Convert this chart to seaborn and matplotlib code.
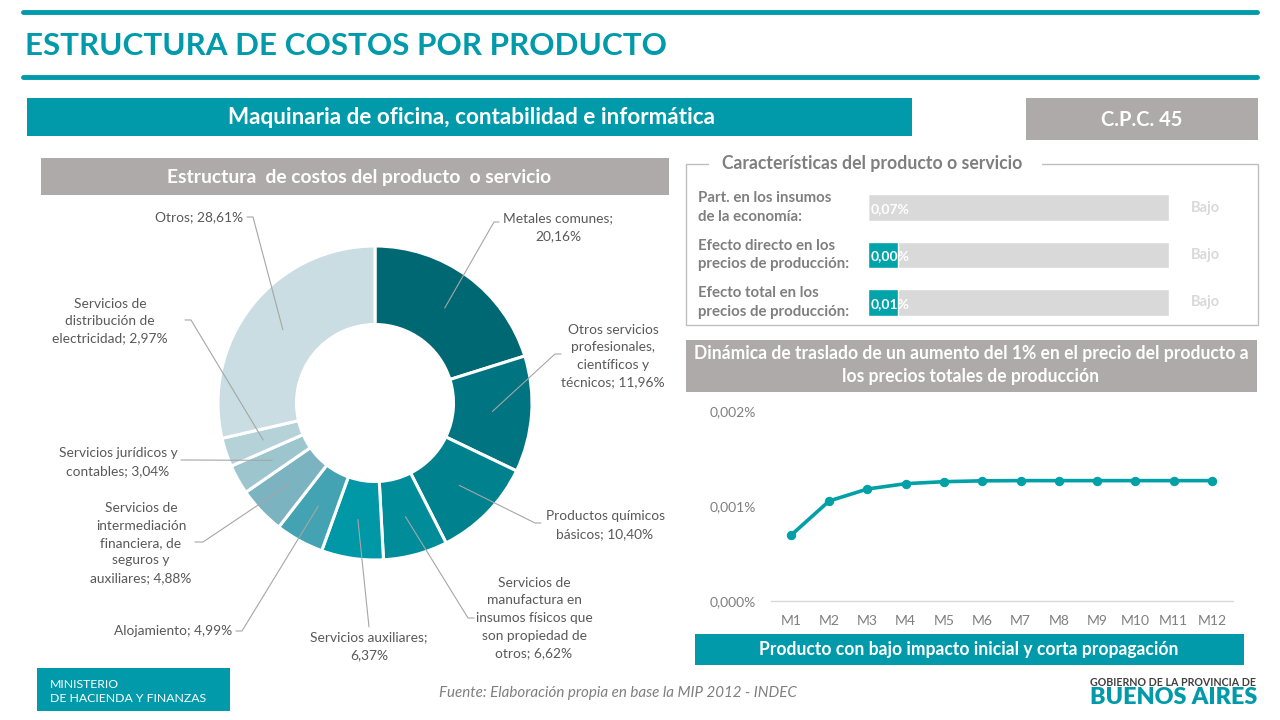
import numpy as np
import pandas as pd
import matplotlib
matplotlib.use("Agg")
import matplotlib.pyplot as plt
import seaborn as sns
from matplotlib.patches import Rectangle

# ---------------- data ----------------
cost_items = [
    "Metales comunes",
    "Otros servicios profesionales, científicos y técnicos",
    "Productos químicos básicos",
    "Servicios de manufactura en insumos físicos que son propiedad de otros",
    "Servicios auxiliares",
    "Alojamiento",
    "Servicios de intermediación financiera, de seguros y auxiliares",
    "Servicios jurídicos y contables",
    "Servicios de distribución de electricidad",
    "Otros",
]
cost_shares = [20.16, 11.96, 10.40, 6.62, 6.37, 4.99, 4.88, 3.04, 2.97, 28.61]
cost_label_names = [
    "Metales comunes;\n",
    "Otros servicios\nprofesionales,\ncientíficos y\ntécnicos; ",
    "Productos químicos\nbásicos; ",
    "Servicios de\nmanufactura en\ninsumos físicos que\nson propiedad de\notros; ",
    "Servicios auxiliares;\n",
    "Alojamiento; ",
    "Servicios de\nintermediación\nfinanciera, de\nseguros y\nauxiliares; ",
    "Servicios jurídicos y\ncontables; ",
    "Servicios de\ndistribución de\nelectricidad; ",
    "Otros; ",
]
cost_colors = ["#006872", "#007581", "#00828E", "#008C99", "#0097A7",
               "#44A3B2", "#7BB3C0", "#9CC5CE", "#B5D2D9", "#C9DDE2"]

char_labels = ["Part. en los insumos\nde la economía:",
               "Efecto directo en los\nprecios de producción:",
               "Efecto total en los\nprecios de producción:"]
char_values = [0.07, 0.00, 0.01]          # %
char_bar_share = [0.0, 0.10, 0.10]        # filled share of the data bar
char_track = [1.0, 1.0, 1.0]
char_level = ["Bajo", "Bajo", "Bajo"]

months = ["M1", "M2", "M3", "M4", "M5", "M6", "M7", "M8", "M9", "M10", "M11", "M12"]
pass_through = [0.000691, 0.001053, 0.001179, 0.001235, 0.001256, 0.001265,
                0.001267, 0.001267, 0.001267, 0.001267, 0.001267, 0.001267]   # %
y_ticks = [0.000, 0.001, 0.002]

# ---------------- style ----------------
sns.set_theme(style="white")
plt.rcParams["font.family"] = ["Lato", "DejaVu Sans"]

TEAL = "#009AAA"
LINE_TEAL = "#00A0A7"
GRAY_BOX = "#AEAAAA"
TXT_GRAY = "#7F7F7F"
LBL_GRAY = "#595959"

W, H = 1280, 720
fig = plt.figure(figsize=(12.8, 7.2), dpi=100)
renderer = fig.canvas.get_renderer()


def fig_rect(x0, y0, x1, y1):
    return [x0 / W, 1 - y1 / H, (x1 - x0) / W, (y1 - y0) / H]


def fit(t, width):
    bb = t.get_window_extent(renderer=renderer)
    t.set_fontsize(t.get_fontsize() * width / bb.width)
    return t.get_fontsize()


def pct(v, nd=2):
    return f"{v:.{nd}f}%".replace(".", ",")


# background axes in pixel coordinates
bg = fig.add_axes([0, 0, 1, 1], zorder=0)
bg.set_xlim(0, W)
bg.set_ylim(H, 0)
bg.axis("off")

# header lines and title
for yy in (12, 77):
    bg.plot([23, 1257], [yy, yy], color=TEAL, lw=3.5, solid_capstyle="round")
t = bg.text(25, 46, "ESTRUCTURA DE COSTOS POR PRODUCTO", color=TEAL, fontsize=23,
            weight="bold", ha="left", va="center")
fit(t, 643)


def box(x0, y0, x1, y1, color):
    bg.add_patch(Rectangle((x0, y0), x1 - x0, y1 - y0, facecolor=color, edgecolor="none", zorder=1))


box(27, 98, 912, 136, TEAL)
t = bg.text(471, 117, "Maquinaria de oficina, contabilidad e informática", color="white",
            weight="bold", fontsize=14, ha="center", va="center", zorder=2)
fit(t, 491)
box(1026, 98, 1258, 140, GRAY_BOX)
t = bg.text(1142, 120, "C.P.C. 45", color="white", weight="bold", fontsize=14,
            ha="center", va="center", zorder=2)
fit(t, 82)
box(41, 158, 669, 195, GRAY_BOX)
t = bg.text(359, 177, "Estructura  de costos del producto  o servicio", color="white",
            weight="bold", fontsize=12, ha="center", va="center", zorder=2)
fit(t, 383)

# characteristics frame
bg.add_patch(Rectangle((686, 164), 1258 - 686, 325 - 164, facecolor="none",
                       edgecolor="#BFBFBF", lw=1.0, zorder=1))
bg.add_patch(Rectangle((709, 156), 1042 - 709, 16, facecolor="white", edgecolor="none", zorder=2))
t = bg.text(722, 163, "Características del producto o servicio", color=TXT_GRAY,
            weight="bold", fontsize=12, ha="left", va="center", zorder=3)
fit(t, 297)

box(686, 340, 1257, 392, GRAY_BOX)
t = bg.text(971, 365, "Dinámica de traslado de un aumento del 1% en el precio del producto a\n"
            "los precios totales de producción", color="white", weight="bold", fontsize=12,
            ha="center", va="center", linespacing=1.45, zorder=2)
fit(t, 550)

box(695, 634, 1244, 665, TEAL)
t = bg.text(969, 650, "Producto con bajo impacto inicial y corta propagación", color="white",
            weight="bold", fontsize=12, ha="center", va="center", zorder=2)
fit(t, 415)

# footer
box(37, 668, 230, 711, TEAL)
t1 = bg.text(50, 684, "MINISTERIO", color="white", fontsize=8, ha="left", va="center", zorder=2)
t = bg.text(50, 698, "DE HACIENDA Y FINANZAS", color="white", fontsize=8, ha="left",
            va="center", zorder=2)
s = fit(t, 156)
t1.set_fontsize(s)
t = bg.text(618, 693, "Fuente: Elaboración propia en base la MIP 2012 - INDEC", color=TXT_GRAY,
            style="italic", fontsize=10, ha="center", va="center")
fit(t, 360)
t = bg.text(1090, 682, "GOBIERNO DE LA PROVINCIA DE", color="#404040", weight="bold",
            fontsize=7, ha="left", va="center")
fit(t, 167)
t = bg.text(1090, 698, "BUENOS AIRES", color=TEAL, weight="heavy", fontsize=18,
            ha="left", va="center")
fit(t, 168)

# ---------------- donut ----------------
dax = fig.add_axes(fig_rect(218, 246, 532, 560), zorder=2)
wedges, _ = dax.pie(cost_shares, colors=cost_colors, startangle=90, counterclock=False,
                    radius=1.0, wedgeprops=dict(width=0.5, edgecolor="white", linewidth=2.2))
dax.set_xlim(-1, 1)
dax.set_ylim(-1, 1)
dax.set_aspect("equal")
dax.axis("off")
dax.apply_aspect()

ov = fig.add_axes([0, 0, 1, 1], zorder=10)
ov.set_xlim(0, W)
ov.set_ylim(H, 0)
ov.axis("off")
ov.patch.set_alpha(0)

# label layout: (text x, text y, ha, anchor, elbow)
label_layout = [
    (558, 227, "center", (499, 222), (494, 222)),
    (613, 356, "center", (561, 354), (555, 354)),
    (605, 525, "center", (541, 523), (535, 523)),
    (534, 618, "center", (474, 618), (468, 618)),
    (369, 646, "center", (369, 627), (369, 627)),
    (232, 631, "right", (236, 631), (242, 631)),
    (141, 543, "center", (195, 542), (203, 542)),
    (118, 462, "center", (181, 460), (187, 460)),
    (110, 321, "center", (185, 320), (191, 320)),
    (243, 217, "right", (247, 217), (253, 217)),
]

ref = ov.text(0, 0, "Metales comunes;", fontsize=10)
lab_size = fit(ref, 110)
ref.remove()

to_ov = ov.transData.inverted()
for w, name, share, (tx, ty, ha, anc, elb) in zip(wedges, cost_label_names, cost_shares, label_layout):
    ov.text(tx, ty, name + pct(share), fontsize=lab_size, color=LBL_GRAY, ha=ha, va="center",
            multialignment="center", linespacing=1.55)
    th = np.deg2rad((w.theta1 + w.theta2) / 2)
    px, py = to_ov.transform(dax.transData.transform((0.75 * np.cos(th), 0.75 * np.sin(th))))
    ov.plot([anc[0], elb[0], px], [anc[1], elb[1], py], color="#A6A6A6", lw=0.8)

# ---------------- characteristic bars ----------------
bx = fig.add_axes(fig_rect(868, 184, 1169, 326), zorder=3)
sns.barplot(x=char_track, y=char_labels, color="#D9D9D9", orient="h", width=0.56,
            saturation=1, ax=bx)
sns.barplot(x=char_bar_share, y=char_labels, color="#00A3A8", orient="h", width=0.56,
            saturation=1, ax=bx)
bx.set_xlim(0, 1)
bx.axis("off")
row_texts = []
for i, (lab, val, lev) in enumerate(zip(char_labels, char_values, char_level)):
    row_texts.append(bx.text(-0.565, i, lab, color=TXT_GRAY, weight="bold", fontsize=10,
                             ha="left", va="center", linespacing=1.4, clip_on=False))
    bx.text(0.008, i + 0.03, pct(val), color="white", weight="bold", fontsize=10,
            ha="left", va="center")
    bx.text(1.12, i, lev, color="#D9D9D9", weight="bold", fontsize=10.5,
            ha="center", va="center", clip_on=False)
rs = fit(row_texts[1], 152)
for rt in row_texts:
    rt.set_fontsize(rs)

# ---------------- line chart ----------------
lax = fig.add_axes(fig_rect(771, 411, 1233, 601), zorder=3)
df = pd.DataFrame({"pos": np.arange(len(months)), "valor": pass_through})
sns.lineplot(data=df, x="pos", y="valor", color=LINE_TEAL, lw=2.6, marker="o",
             markersize=6, markeredgecolor=LINE_TEAL, ax=lax)
lax.set_xlim(-0.52, len(months) - 1 + 0.55)
lax.set_ylim(y_ticks[0], y_ticks[-1])
lax.set_xticks(np.arange(len(months)))
lax.set_xticklabels(months)
lax.set_yticks(y_ticks)
lax.set_yticklabels([pct(v, 3) for v in y_ticks])
lax.set_xlabel("")
lax.set_ylabel("")
lax.tick_params(axis="both", length=0, colors=TXT_GRAY, labelsize=10)
lax.tick_params(axis="x", pad=10)
lax.tick_params(axis="y", pad=11)
for sp in ("left", "top", "right"):
    lax.spines[sp].set_visible(False)
lax.spines["bottom"].set_color("#D9D9D9")
lax.spines["bottom"].set_linewidth(1.0)
lax.patch.set_alpha(0)
lax.grid(False)

fig.savefig("out.png", dpi=100)
